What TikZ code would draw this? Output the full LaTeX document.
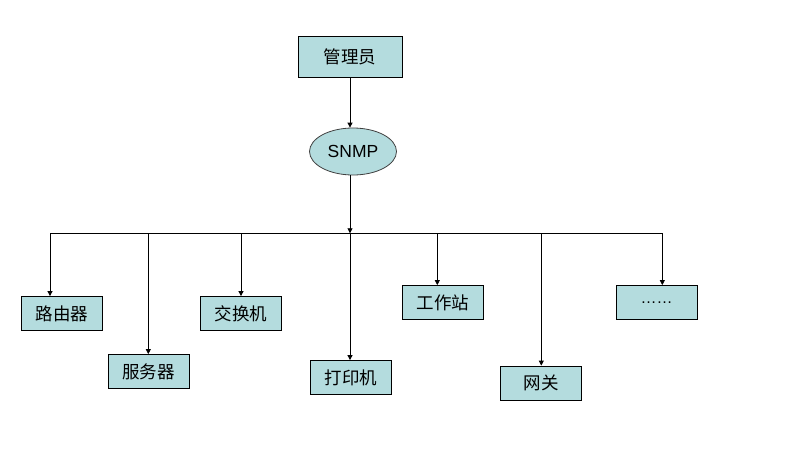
\documentclass[tikz,border=0pt]{standalone}
\usepackage{fontspec}
\setmainfont{Liberation Sans}
\newfontfamily\cjk{Noto Sans CJK SC}
\usetikzlibrary{arrows.meta,shapes.geometric}
\definecolor{boxfill}{RGB}{180,220,222}
\begin{document}
\begin{tikzpicture}[x=1pt,y=-1pt,
  box/.style={draw=black, fill=boxfill, line width=0.8pt, minimum width=81pt, minimum height=34pt, inner sep=0pt, font=\cjk\fontsize{17.5}{17.5}\selectfont},
  arr/.style={-{Triangle[length=5pt,width=5pt]}, line width=0.8pt},
  busline/.style={line width=0.8pt}]
\useasboundingbox (0,0) rectangle (802,474);
\node[box, minimum width=104pt, minimum height=41pt] (admin) at (350,57) {管理员};
\node[ellipse, draw=black!75, fill=boxfill, line width=0.8pt, minimum width=87pt, minimum height=47pt, inner sep=0pt, font=\fontsize{17.5}{17.5}\selectfont] (snmp) at (353,151.5) {SNMP};
\node[box] (router) at (62,313.5) {路由器};
\node[box] (server) at (148.5,371.5) {服务器};
\node[box] (switch) at (241,313.5) {交换机};
\node[box] (printer) at (351,377.5) {打印机};
\node[box] (station) at (443,302.5) {工作站};
\node[box] (gateway) at (541,383) {网关};
\node[box, font=\fontsize{16}{16}\selectfont] (more) at (656.5,302.5) {\raisebox{-2pt}{……}};
\coordinate (bc) at (350,233.3);
\coordinate (b1) at (50,233.3);
\coordinate (b2) at (148.3,233.3);
\coordinate (b3) at (241,233.3);
\coordinate (b5) at (437.3,233.3);
\coordinate (b6) at (541.3,233.3);
\coordinate (b7) at (662.3,233.3);
\draw[arr] (admin.south) -- (admin.south |- snmp.north);
\draw[arr] (bc |- snmp.south) -- (bc);
\draw[busline] (b1) -- (b7);
\draw[arr] (b1) -- (b1 |- router.north);
\draw[arr] (b2) -- (b2 |- server.north);
\draw[arr] (b3) -- (b3 |- switch.north);
\draw[arr] (bc) -- (bc |- printer.north);
\draw[arr] (b5) -- (b5 |- station.north);
\draw[arr] (b6) -- (b6 |- gateway.north);
\draw[arr] (b7) -- (b7 |- more.north);
\end{tikzpicture}
\end{document}
